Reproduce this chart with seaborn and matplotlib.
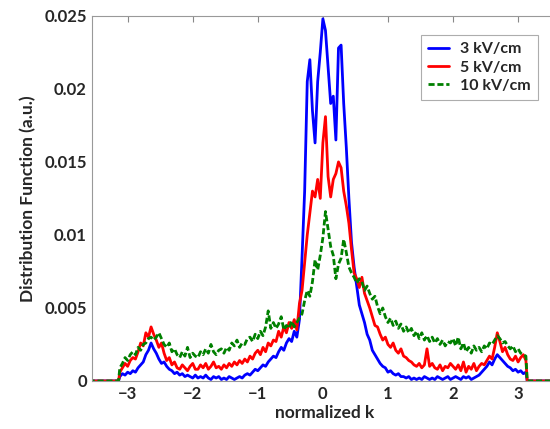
import numpy as np
import pandas as pd
import matplotlib
matplotlib.use("Agg")
import matplotlib.pyplot as plt
import seaborn as sns

# normalized k grid of the sampled distribution (step 0.04 inside the zone)
kGrid = np.round(np.linspace(-3.12, 3.12, 157), 2)
kEdgeLeft = [-3.6, -3.14]
kEdgeRight = [3.14, 3.6]

# distribution function values, in units of 1e-3
f3kV = [
    0.3, 0.5, 0.4, 0.6, 0.5, 0.7, 0.6, 0.9, 1.1, 1.3,
    1.8, 2.1, 2.6, 2.2, 1.9, 1.5, 1.2, 1.3, 1.0, 0.8,
    0.7, 0.5, 0.6, 0.4, 0.5, 0.3, 0.4, 0.3, 0.2, 0.4,
    0.2, 0.3, 0.2, 0.4, 0.2, 0.1, 0.3, 0.2, 0.3, 0.1,
    0.2, 0.1, 0.3, 0.2, 0.1, 0.2, 0.3, 0.2, 0.4, 0.5,
    0.4, 0.6, 0.8, 0.7, 0.9, 1.1, 1.0, 1.3, 1.5, 1.7,
    1.6, 2.0, 2.3, 2.1, 2.6, 2.9, 2.7, 3.4, 3.0, 4.2,
    8.5, 13.0, 20.5, 22.0, 18.5, 16.3, 20.5, 22.5, 24.8, 24.0,
    21.5, 19.0, 19.5, 16.5, 22.8, 23.0, 19.0, 16.0, 12.5, 9.5,
    7.8, 6.5, 5.2, 4.6, 4.0, 3.2, 2.8, 2.1, 1.8, 1.5,
    1.2, 1.0, 0.9, 0.6, 0.7, 0.5, 0.4, 0.5, 0.3, 0.3,
    0.2, 0.3, 0.1, 0.2, 0.1, 0.2, 0.1, 0.3, 0.2, 0.1,
    0.2, 0.1, 0.3, 0.2, 0.1, 0.2, 0.3, 0.1, 0.2, 0.3,
    0.2, 0.1, 0.3, 0.2, 0.3, 0.1, 0.2, 0.3, 0.4, 0.6,
    0.8, 1.0, 1.3, 1.1, 1.5, 1.8, 1.6, 1.4, 1.2, 1.0,
    0.9, 0.7, 0.8, 0.6, 0.7, 0.5, 0.6,
]
f5kV = [
    0.6, 0.9, 1.2, 1.0, 1.4, 1.6, 1.5, 2.0, 2.6, 2.4,
    3.3, 3.0, 3.7, 3.2, 2.8, 2.3, 2.6, 1.9, 1.4, 1.6,
    1.1, 1.3, 0.9, 0.8, 1.1, 0.9, 0.7, 1.0, 1.2, 0.8,
    0.8, 1.1, 0.9, 1.2, 0.8, 1.0, 1.3, 0.9, 1.0, 0.8,
    1.1, 0.9, 1.2, 1.0, 1.3, 1.1, 1.4, 1.2, 1.5, 1.3,
    1.7, 1.5, 1.9, 2.1, 1.8, 2.3, 2.0, 2.6, 2.4, 2.8,
    2.7, 3.4, 3.0, 3.7, 3.3, 4.0, 3.6, 4.2, 3.5, 5.3,
    6.2, 8.1, 10.0, 11.5, 13.0, 12.6, 13.8, 12.5, 16.3, 18.1,
    14.0, 12.6, 13.8, 14.2, 15.0, 14.6, 13.0, 12.0, 10.8, 9.0,
    7.4, 7.0, 6.4, 7.1, 6.0, 5.5, 5.0, 4.4, 3.8, 3.7,
    3.2, 2.8, 3.0, 2.5, 2.3, 2.6, 2.1, 1.9, 2.2, 1.7,
    1.6, 1.4, 1.3, 1.1, 1.0, 1.2, 0.9, 1.1, 2.2, 1.0,
    1.2, 0.9, 0.8, 1.1, 0.7, 1.0, 0.9, 1.2, 1.0, 0.8,
    1.1, 0.7, 1.3, 0.6, 1.0, 0.8, 1.2, 0.7, 1.0, 1.2,
    1.1, 1.4, 1.7, 1.5, 2.3, 3.3, 2.7, 2.0, 2.3, 1.8,
    1.5, 1.4, 1.7, 1.3, 1.6, 1.8, 1.4,
]
f10kV = [
    0.9, 1.2, 1.6, 1.4, 1.8, 2.0, 1.8, 2.3, 2.1, 2.5,
    2.6, 2.9, 3.0, 2.8, 3.0, 3.3, 2.9, 2.5, 2.3, 2.6,
    2.0, 2.2, 1.8, 1.6, 2.0, 1.7, 2.3, 1.6, 1.9, 1.7,
    1.6, 2.0, 1.8, 2.2, 1.9, 2.5, 2.0, 1.8, 2.1, 2.2,
    1.9, 2.3, 2.1, 2.6, 2.4, 2.8, 2.3, 2.6, 2.5, 2.9,
    3.0, 2.7, 3.2, 2.9, 3.4, 3.1, 3.7, 4.8, 3.6, 4.0,
    3.6, 3.9, 4.4, 3.5, 3.8, 3.6, 4.1, 3.7, 4.0, 4.3,
    4.6, 5.5, 6.2, 5.8, 6.8, 8.3, 7.6, 8.6, 9.8, 11.6,
    10.4, 9.2, 8.6, 7.0, 8.0, 8.4, 9.7, 8.8, 7.8, 7.4,
    7.1, 6.7, 7.0, 6.8, 6.2, 6.5, 6.0, 5.6, 5.8, 5.1,
    4.6, 5.0, 4.4, 4.0, 4.3, 3.8, 4.1, 3.6, 3.9, 3.4,
    3.7, 3.3, 3.6, 3.1, 3.4, 2.9, 3.3, 2.8, 3.1, 2.7,
    3.0, 2.6, 2.9, 2.5, 2.8, 2.4, 2.7, 2.6, 2.9, 2.4,
    3.0, 2.2, 2.6, 2.0, 2.3, 1.9, 2.4, 2.1, 2.3, 2.0,
    2.4, 2.2, 2.6, 2.5, 2.8, 3.1, 2.9, 2.6, 2.7, 2.4,
    2.2, 2.4, 2.0, 2.2, 1.9, 1.8, 1.7,
]
fieldLabels = ["3 kV/cm", "5 kV/cm", "10 kV/cm"]
lineColors = ["#0000ff", "#ff0000", "#008000"]
lineStyles = ["-", "-", (0, (2.2, 1.0))]

sns.set_style("white")
plt.rcParams['font.family'] = ['Lato', 'DejaVu Sans']
plt.rcParams['font.weight'] = 'bold'

fig = plt.figure(figsize=(5.5, 4.29), dpi=100)
# the right edge of the axes runs just past the figure, as in the original
ax = fig.add_axes([0.167, 0.112, 0.846, 0.851])

kFull = np.concatenate([kEdgeLeft, kGrid, kEdgeRight])
for values, label, color, style in zip([f3kV, f5kV, f10kV], fieldLabels, lineColors, lineStyles):
    yFull = np.concatenate([[0, 0], np.array(values) * 1e-3, [0, 0]])
    df = pd.DataFrame({'k': kFull, 'f': yFull})
    sns.lineplot(data=df, x='k', y='f', ax=ax, color=color, linestyle=style,
                 linewidth=2.0, label=label, sort=False, estimator=None)

ax.set_xlim(-3.55, 3.6)
ax.set_ylim(0, 0.025)
ax.set_xticks([-3, -2, -1, 0, 1, 2, 3])
ax.set_yticks([0, 0.005, 0.01, 0.015, 0.02, 0.025])
ax.set_yticklabels(['0', '0.005', '0.01', '0.015', '0.02', '0.025'])
ax.set_xticklabels(['\u22123', '\u22122', '\u22121', '0', '1', '2', '3'])
ax.tick_params(direction='in', length=4, width=0.8, color='#888888',
               labelsize=12, labelcolor='#262626', top=True, right=True)
for s in ax.spines.values():
    s.set_color('#999999')
    s.set_linewidth(0.8)
ax.set_xlabel("normalized k", fontsize=12.5, fontweight='bold', color='#262626', labelpad=2)
ax.set_ylabel("Distribution Function (a.u.)", fontsize=12.5, fontweight='bold', color='#262626', labelpad=6)

leg = ax.legend(loc='upper right', bbox_to_anchor=(538 / 550, 1 - 35 / 429),
                bbox_transform=fig.transFigure, borderaxespad=0, fontsize=11.5,
                handlelength=1.3, frameon=True, fancybox=False, borderpad=0.45,
                labelspacing=0.25, handletextpad=0.7)
leg.get_frame().set_edgecolor('#999999')
leg.get_frame().set_linewidth(0.8)
for t in leg.get_texts():
    t.set_fontweight('bold')
    t.set_color('#262626')

fig.savefig("out.png", dpi=100)
